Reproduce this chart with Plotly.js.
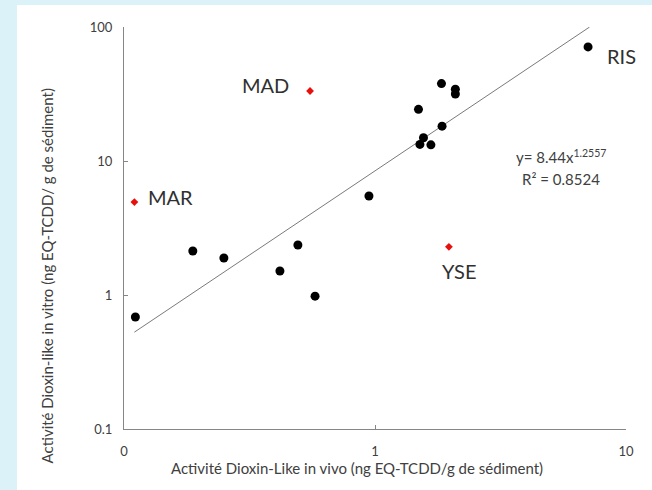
<!DOCTYPE html>
<html>
<head>
<meta charset="utf-8">
<script src="https://cdn.plot.ly/plotly-3.0.1.min.js"></script>
<style>
  html, body { margin: 0; padding: 0; background: #daf2f8; width: 652px; height: 490px; overflow: hidden; }
  #chart { position: absolute; left: 17px; top: 5px; width: 635px; height: 485px; background: #ffffff; }
</style>
</head>
<body>
<div id="chart"></div>
<script>
// Black points: in vivo (x) vs in vitro (y)
const sitesX = [0.111, 0.188, 0.25, 0.418, 0.493, 0.577, 0.946, 1.49, 1.84, 2.09, 2.09, 1.85, 1.56, 1.51, 1.67, 7.06];
const sitesY = [0.685, 2.13, 1.89, 1.51, 2.36, 0.98, 5.48, 24.3, 37.8, 34.3, 31.6, 18.2, 14.9, 13.3, 13.2, 71];

// Red outliers
const outlierNames = ["MAR", "MAD", "YSE"];
const outlierX = [0.110, 0.551, 1.97];
const outlierY = [4.94, 33.3, 2.29];

// Labelled black point
const risName = "RIS";
const risX = 7.06;
const risY = 71;

// Power trend line y = a x^b
const fitA = 8.44;
const fitB = 1.2557;
const fitR2 = 0.8524;
const fitXRange = [0.11, 7.16];

const xTickVals = [0.1, 1, 10];
const xTickText = ["0", "1", "10"];
const yTickVals = [0.1, 1, 10, 100];
const yTickText = ["0.1", "1", "10", "100"];

const xTitle = "Activité Dioxin-Like in vivo (ng EQ-TCDD/g de sédiment)";
const yTitle = "Activité Dioxin-like in vitro (ng EQ-TCDD/ g de sédiment)";

const fitY = fitXRange.map(x => fitA * Math.pow(x, fitB));

const textColor = "#404040";
const axisColor = "#868686";
const font = "Lato, 'Open Sans', sans-serif";

const traces = [
  {
    x: fitXRange, y: fitY, type: "scatter", mode: "lines",
    line: { color: "#7a7a7a", width: 1 }, hoverinfo: "skip"
  },
  {
    x: sitesX, y: sitesY, type: "scatter", mode: "markers",
    marker: { color: "#000000", size: 9, symbol: "circle" }
  },
  {
    x: outlierX, y: outlierY, type: "scatter", mode: "markers",
    marker: { color: "#e8100c", size: 6, symbol: "diamond" }
  }
];

const labelOffsets = {
  MAR: { xanchor: "left", xshift: 12, yshift: 5 },
  MAD: { xanchor: "right", xshift: -19, yshift: 6 },
  YSE: { xanchor: "center", xshift: 10, yshift: -24 }
};

const annotations = outlierNames.map((n, i) => Object.assign({
  x: Math.log10(outlierX[i]), y: Math.log10(outlierY[i]), xref: "x", yref: "y",
  text: n, showarrow: false, yanchor: "middle",
  font: { family: font, size: 20, color: "#303030" }
}, labelOffsets[n]));

annotations.push({
  x: Math.log10(risX), y: Math.log10(risY), xref: "x", yref: "y",
  text: risName, showarrow: false, xanchor: "left", yanchor: "middle", xshift: 17, yshift: -9,
  font: { family: font, size: 20, color: "#303030" }
});

annotations.push({
  x: 0.87, y: 0.678, xref: "paper", yref: "paper", showarrow: false,
  text: "y= " + fitA.toFixed(2) + "x<sup>" + fitB + "</sup>",
  font: { family: font, size: 15, color: textColor }, xanchor: "center", yanchor: "middle"
});
annotations.push({
  x: 0.87, y: 0.623, xref: "paper", yref: "paper", showarrow: false,
  text: "R² = " + fitR2,
  font: { family: font, size: 15, color: textColor }, xanchor: "center", yanchor: "middle"
});

// Axis titles (placed as in the reference, not centred on the plot area)
annotations.push({
  x: -0.153, y: 0.38, xref: "paper", yref: "paper", showarrow: false,
  text: yTitle, textangle: -90,
  font: { family: font, size: 15, color: textColor }, xanchor: "center", yanchor: "middle"
});
annotations.push({
  x: 0.464, y: -0.097, xref: "paper", yref: "paper", showarrow: false,
  text: xTitle,
  font: { family: font, size: 15, color: textColor }, xanchor: "center", yanchor: "middle"
});

const layout = {
  width: 635, height: 485,
  margin: { l: 107, r: 26, t: 22, b: 61 },
  paper_bgcolor: "#ffffff", plot_bgcolor: "#ffffff",
  showlegend: false,
  xaxis: {
    type: "log", range: [-1, 1],
    tickvals: xTickVals, ticktext: xTickText,
    showgrid: false, zeroline: false, showline: true, linecolor: axisColor, linewidth: 1,
    ticks: "inside", ticklen: 4, tickcolor: axisColor,
    tickfont: { family: font, size: 13, color: textColor },
    ticklabelstandoff: 10
  },
  yaxis: {
    type: "log", range: [-1, 2],
    tickvals: yTickVals, ticktext: yTickText,
    showgrid: false, zeroline: false, showline: true, linecolor: axisColor, linewidth: 1,
    ticks: "inside", ticklen: 4, tickcolor: axisColor,
    tickfont: { family: font, size: 13, color: textColor },
    ticklabelstandoff: 8
  },
  annotations: annotations,
  font: { family: font, color: textColor }
};

Plotly.newPlot("chart", traces, layout, { displayModeBar: false, staticPlot: true });
</script>
</body>
</html>
